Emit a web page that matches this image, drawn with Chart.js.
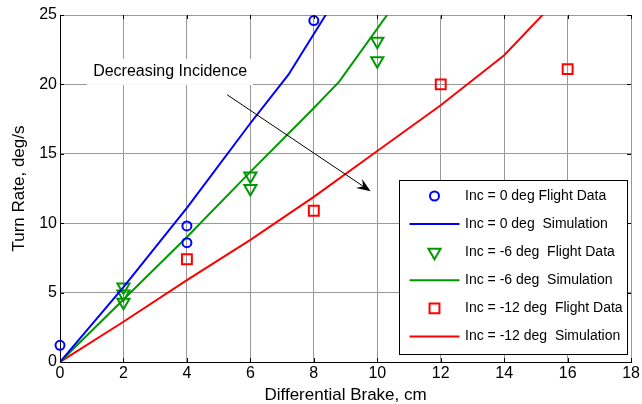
<!DOCTYPE html>
<html>
<head>
<meta charset="utf-8">
<script src="https://cdn.jsdelivr.net/npm/chart.js@4.4.0/dist/chart.umd.min.js"></script>
<style>
  html, body { margin: 0; padding: 0; background: #fff; }
</style>
</head>
<body>
<canvas id="turnRate" width="642" height="404"></canvas>
<script>
// flight data, brake (cm) vs turn rate (deg/s)
const inc0Brake = [0, 4, 4, 8]
const inc0Rate = [1.2, 9.8, 8.6, 24.6]
const inc6Brake = [2, 2, 2, 6, 6, 10, 10]
const inc6Rate = [5.4, 4.9, 4.3, 13.4, 12.5, 23.1, 21.7]
const inc12Brake = [4, 8, 12, 16]
const inc12Rate = [7.4, 10.9, 20.0, 21.1]

// simulation curves
const sim0Brake = [0, 2, 4, 6, 7.2, 9]
const sim0Rate = [0, 5.4, 11.1, 17.2, 20.7, 27.3]
const sim6Brake = [0, 2, 4, 6, 8, 8.8, 11]
const sim6Rate = [0, 4.5, 9.0, 13.7, 18.3, 20.2, 27.2]
const sim12Brake = [0, 2, 4, 6, 8, 10, 12, 14, 16]
const sim12Rate = [0, 2.9, 5.9, 8.8, 11.9, 15.2, 18.5, 22.1, 26.9]

const labels = [
  "Inc = 0 deg Flight Data",
  "Inc = 0 deg  Simulation",
  "Inc = -6 deg  Flight Data",
  "Inc = -6 deg  Simulation",
  "Inc = -12 deg  Flight Data",
  "Inc = -12 deg  Simulation"
]

const noteText = "Decreasing Incidence"
const noteAt = [3.47, 20.9]
const arrowFrom = [5.27, 19.25]
const arrowTo = [9.79, 12.3]

const FONT = '"Liberation Sans", Arial, Helvetica, sans-serif'
const BLUE = "#0000ff"
const GREEN = "#009a00"
const RED = "#ff0000"

function pts(xs, ys) {
  return xs.map((v, i) => ({ x: v, y: ys[i] }))
}

function markers(label, xs, ys, color, style, radius, rotation) {
  return {
    label: label,
    data: pts(xs, ys),
    showLine: false,
    clip: false,
    pointStyle: style,
    pointRadius: radius,
    pointRotation: rotation || 0,
    pointBorderWidth: 2,
    pointBorderColor: color,
    pointBackgroundColor: "rgba(0,0,0,0)",
    borderColor: color,
    borderWidth: 2
  }
}

function curve(label, xs, ys, color) {
  return {
    label: label,
    data: pts(xs, ys),
    showLine: true,
    borderColor: color,
    borderWidth: 2,
    pointRadius: 0,
    tension: 0
  }
}

// inward ticks, note, arrow and boxed legend
const extras = {
  id: "extras",
  beforeDatasetsDraw(chart) {
    const { ctx, scales: { x, y } } = chart
    ctx.save()
    ctx.font = "16px " + FONT
    const tx = x.getPixelForValue(noteAt[0])
    const ty = y.getPixelForValue(noteAt[1])
    const w = ctx.measureText(noteText).width
    ctx.fillStyle = "#fff"
    ctx.fillRect(tx - w / 2 - 6, ty - 13, w + 12, 26)
    ctx.fillStyle = "#000"
    ctx.textAlign = "center"
    ctx.textBaseline = "middle"
    ctx.fillText(noteText, tx, ty)
    ctx.restore()
  },
  afterDraw(chart) {
    const { ctx, chartArea: a, scales: { x, y } } = chart
    ctx.save()

    // tick marks pointing into the plot on all four sides
    ctx.strokeStyle = "#000"
    ctx.lineWidth = 1
    ctx.beginPath()
    x.ticks.forEach(t => {
      const px = Math.round(x.getPixelForValue(t.value)) + 0.5
      ctx.moveTo(px, a.bottom); ctx.lineTo(px, a.bottom - 4)
      ctx.moveTo(px, a.top); ctx.lineTo(px, a.top + 4)
    })
    y.ticks.forEach(t => {
      const py = Math.round(y.getPixelForValue(t.value)) + 0.5
      ctx.moveTo(a.left, py); ctx.lineTo(a.left + 4, py)
      ctx.moveTo(a.right, py); ctx.lineTo(a.right - 4, py)
    })
    ctx.stroke()

    // arrow
    const x0 = x.getPixelForValue(arrowFrom[0]), y0 = y.getPixelForValue(arrowFrom[1])
    const x1 = x.getPixelForValue(arrowTo[0]), y1 = y.getPixelForValue(arrowTo[1])
    const ang = Math.atan2(y1 - y0, x1 - x0)
    ctx.beginPath()
    ctx.moveTo(x0, y0)
    ctx.lineTo(x1 - 8 * Math.cos(ang), y1 - 8 * Math.sin(ang))
    ctx.stroke()
    ctx.translate(x1, y1)
    ctx.rotate(ang)
    ctx.beginPath()
    ctx.moveTo(0, 0)
    ctx.lineTo(-14, -5.5)
    ctx.lineTo(-9, 0)
    ctx.lineTo(-14, 5.5)
    ctx.closePath()
    ctx.fillStyle = "#000"
    ctx.fill()
    ctx.setTransform(1, 0, 0, 1, 0, 0)

    // legend
    const bx = 399.5, by = 180.5, bw = 228, bh = 174
    ctx.fillStyle = "#fff"
    ctx.fillRect(bx, by, bw, bh)
    ctx.strokeStyle = "#000"
    ctx.lineWidth = 1
    ctx.strokeRect(bx, by, bw, bh)
    ctx.font = "14px " + FONT
    ctx.textBaseline = "middle"
    ctx.textAlign = "left"
    chart.data.datasets.forEach((ds, i) => {
      const cy = by + 15.5 + i * 28.1
      ctx.strokeStyle = ds.borderColor
      ctx.lineWidth = 2
      if (ds.showLine) {
        ctx.beginPath()
        ctx.moveTo(bx + 10, cy)
        ctx.lineTo(bx + 60, cy)
        ctx.stroke()
      } else {
        ctx.fillStyle = "rgba(0,0,0,0)"
        Chart.helpers.drawPoint(ctx, {
          pointStyle: ds.pointStyle,
          rotation: ds.pointRotation,
          radius: ds.pointRadius,
          borderWidth: 2
        }, bx + 35, cy)
      }
      ctx.fillStyle = "#000"
      ctx.fillText(ds.label, bx + 65.5, cy)
    })
    ctx.restore()
  }
}

const tickFont = { family: FONT, size: 16 }
const titleFont = { family: FONT, size: 17 }

new Chart(document.getElementById("turnRate"), {
  type: "scatter",
  data: {
    datasets: [
      markers(labels[0], inc0Brake, inc0Rate, BLUE, "circle", 4.5),
      curve(labels[1], sim0Brake, sim0Rate, BLUE),
      markers(labels[2], inc6Brake, inc6Rate, GREEN, "triangle", 7, 180),
      curve(labels[3], sim6Brake, sim6Rate, GREEN),
      markers(labels[4], inc12Brake, inc12Rate, RED, "rect", 7),
      curve(labels[5], sim12Brake, sim12Rate, RED)
    ]
  },
  options: {
    responsive: false,
    animation: false,
    layout: { padding: { top: 15, right: 10, left: 0, bottom: 0 } },
    plugins: {
      legend: { display: false },
      tooltip: { enabled: false }
    },
    scales: {
      x: {
        type: "linear",
        min: 0,
        max: 18,
        ticks: { stepSize: 2, padding: 2, color: "#000", font: tickFont },
        grid: { color: "#999", drawTicks: false },
        border: { color: "#000" },
        title: {
          display: true,
          text: "Differential Brake, cm",
          color: "#000",
          font: titleFont,
          padding: { top: 0, bottom: -2 }
        },
        afterFit(scale) { scale.height = 42 }
      },
      y: {
        type: "linear",
        min: 0,
        max: 25,
        ticks: { stepSize: 5, padding: 3, color: "#000", font: tickFont },
        grid: { color: "#999", drawTicks: false },
        border: { color: "#000" },
        title: {
          display: true,
          text: "Turn Rate, deg/s",
          color: "#000",
          font: titleFont,
          padding: { top: 9, bottom: 0 }
        },
        afterFit(scale) { scale.width = 60 }
      }
    }
  },
  plugins: [extras]
})
</script>
</body>
</html>
